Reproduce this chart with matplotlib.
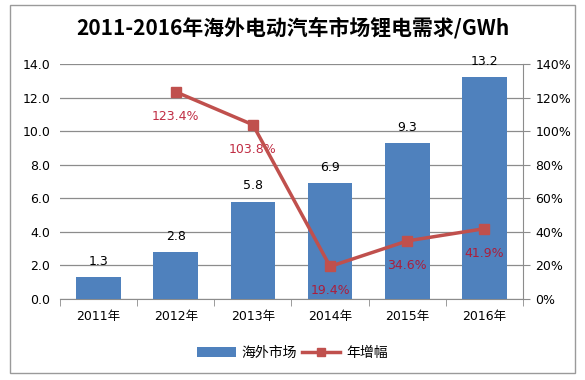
import numpy as np
import matplotlib.pyplot as plt
from matplotlib.patches import Rectangle
from matplotlib.ticker import FuncFormatter

plt.rcParams['font.family'] = ['DejaVu Sans', 'Noto Sans CJK SC']

# data
years = ["2011年", "2012年", "2013年", "2014年", "2015年", "2016年"]
demand = [1.3, 2.8, 5.8, 6.9, 9.3, 13.2]          # GWh
growth_years = [1, 2, 3, 4, 5]                     # index of year with growth value
growth = [123.4, 103.8, 19.4, 34.6, 41.9]          # %

bar_color = "#4F81BD"
line_color = "#C0504D"
label_red = "#B8102A"
grid_color = "#8C8C8C"

fig = plt.figure(figsize=(5.85, 3.8), dpi=100)
ax = fig.add_axes([60 / 585, 1 - 299 / 380, (523 - 60) / 585, (299 - 64) / 380])

x = np.arange(len(years))
bars = ax.bar(x, demand, width=0.58, color=bar_color, zorder=3, label="海外市场")
for xi, v in zip(x, demand):
    ax.text(xi, v + 0.55, f"{v:.1f}", ha="center", va="bottom", fontsize=9, color="black", zorder=5)

ax.set_xlim(-0.5, len(years) - 0.5)
ax.set_ylim(0, 14)
ax.set_yticks(np.arange(0, 15, 2))
ax.yaxis.set_major_formatter(FuncFormatter(lambda v, p: f"{v:.1f}"))
ax.set_xticks(x)
ax.set_xticklabels(years)
ax.set_xticks(np.arange(-0.5, len(years), 1), minor=True)
ax.tick_params(axis="x", which="major", length=0, pad=8, labelsize=9)
ax.tick_params(axis="x", which="minor", length=5, color=grid_color, direction="out")
ax.tick_params(axis="y", length=0, pad=7, labelsize=9)
ax.grid(axis="y", color=grid_color, linewidth=0.9, zorder=0)
ax.set_axisbelow(True)
for s in ["top", "left", "right"]:
    ax.spines[s].set_visible(False)
ax.spines["bottom"].set_color(grid_color)

ax2 = ax.twinx()
ax2.set_ylim(0, 140)
ax2.set_yticks(np.arange(0, 141, 20))
ax2.yaxis.set_major_formatter(FuncFormatter(lambda v, p: f"{v:.0f}%"))
ax2.tick_params(axis="y", length=5, color=grid_color, pad=4, labelsize=9)
for s in ["top", "left", "bottom"]:
    ax2.spines[s].set_visible(False)
ax2.spines["right"].set_color(grid_color)
ax2.plot(growth_years, growth, color=line_color, linewidth=2.5, marker="s",
         markersize=7, zorder=4, label="年增幅")
for xi, v in zip(growth_years, growth):
    ax2.annotate(f"{v:.1f}%", (xi, v), xytext=(0, -13), textcoords="offset points",
                 ha="center", va="top", fontsize=9, color=label_red, alpha=0.88)

fig.text(0.5, 1 - 28 / 380, "2011-2016年海外电动汽车市场锂电需求/GWh", ha="center", va="center",
         fontsize=15, fontweight="bold", family=["Noto Sans CJK SC", "DejaVu Sans"])

h1, l1 = ax.get_legend_handles_labels()
h2, l2 = ax2.get_legend_handles_labels()
fig.legend(h1 + h2, l1 + l2, loc="center", bbox_to_anchor=(0.5, 1 - 353 / 380), ncol=2,
           frameon=False, handlelength=2.8, columnspacing=0.3, handletextpad=0.4,
           markerscale=0.8, prop={"family": ["Noto Sans CJK SC"], "size": 10})

fig.patches.append(Rectangle((10 / 585, 1 - 373 / 380), 565 / 585, 368 / 380, transform=fig.transFigure,
                             fill=False, edgecolor="#9A9A9A", linewidth=1))

fig.savefig("out.png", dpi=100)
